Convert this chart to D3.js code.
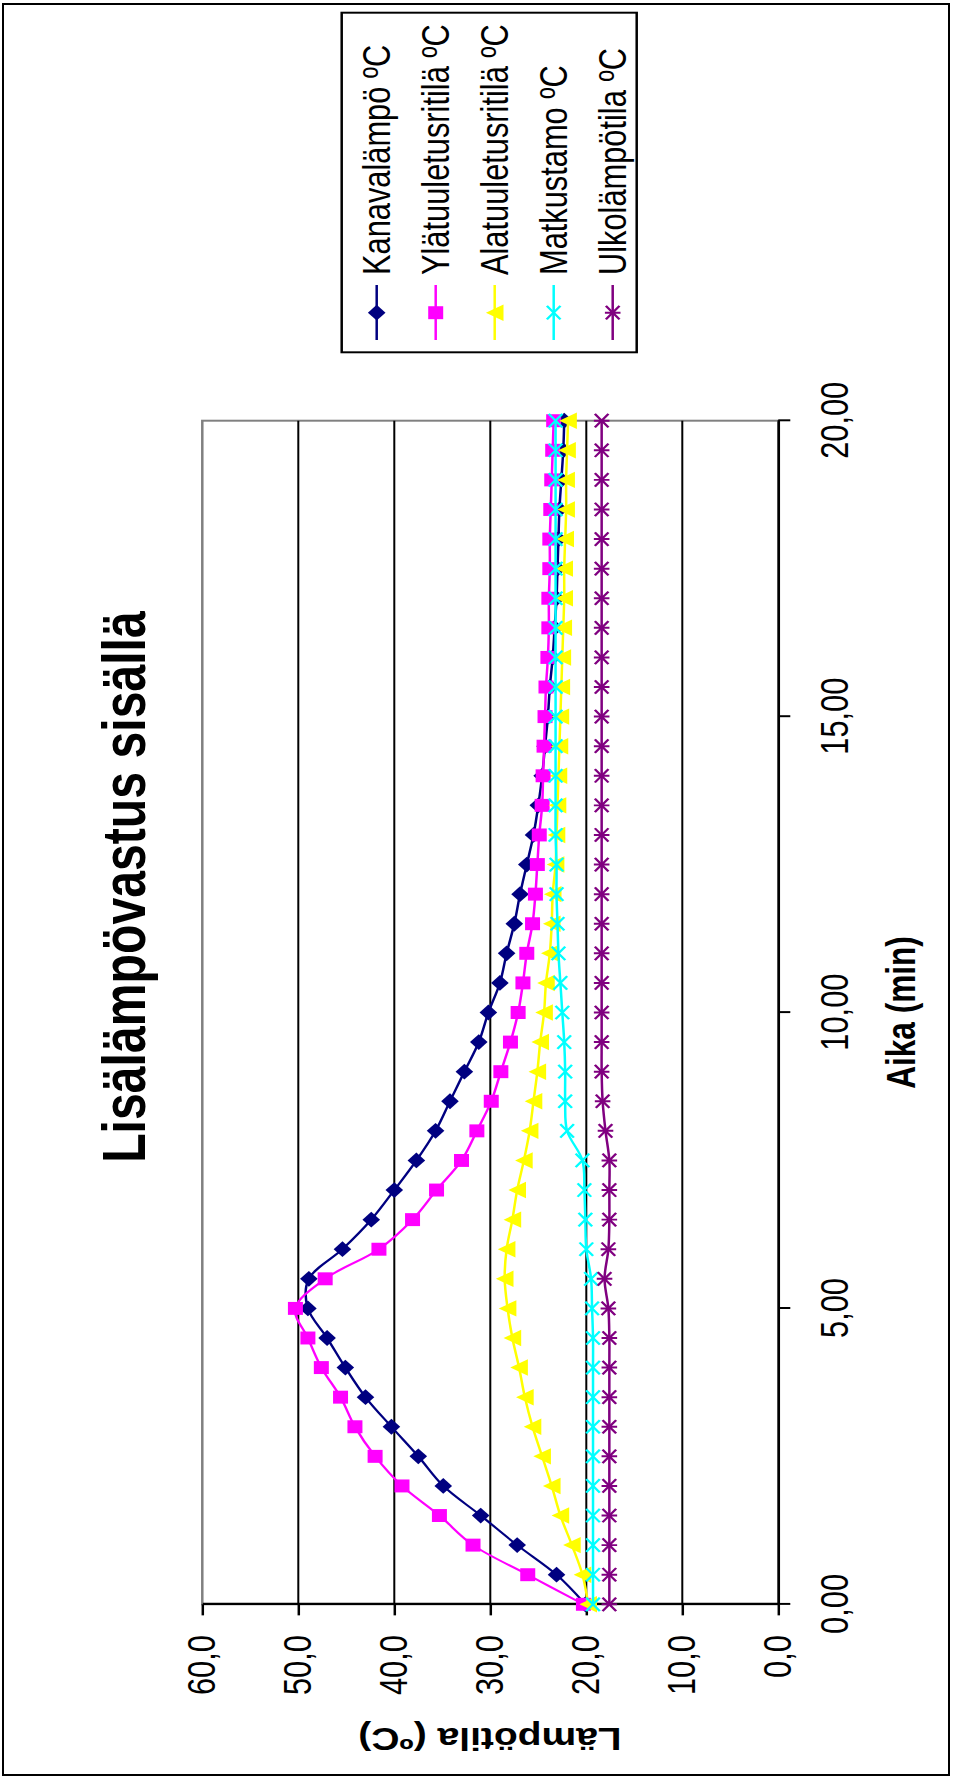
<!DOCTYPE html>
<html>
<head>
<meta charset="utf-8">
<script src="https://cdnjs.cloudflare.com/ajax/libs/d3/7.8.5/d3.min.js"></script>
<style>
  body { margin: 0; background: #fff; }
  text { font-family: "Liberation Sans", Arial, sans-serif; fill: #000; }
</style>
</head>
<body>
<script>
// time (min)
var aika = [0, 0.5, 1, 1.5, 2, 2.5, 3, 3.5, 4, 4.5, 5, 5.5, 6, 6.5, 7, 7.5, 8, 8.5, 9, 9.5,
            10, 10.5, 11, 11.5, 12, 12.5, 13, 13.5, 14, 14.5, 15, 15.5, 16, 16.5, 17, 17.5, 18, 18.5, 19, 19.5, 20];

var kanava = [20.1, 23.1, 27.2, 31.0, 34.9, 37.5, 40.3, 43.0, 45.1, 47.0, 49.0, 48.9, 45.4, 42.4, 40.0, 37.7, 35.7, 34.2, 32.7, 31.2,
              30.2, 29.0, 28.3, 27.5, 26.9, 26.2, 25.5, 25.0, 24.6, 24.3, 24.0, 23.8, 23.5, 23.3, 23.1, 23.0, 22.9, 22.8, 22.6, 22.4, 22.3];
var yla = [20.3, 26.1, 31.8, 35.3, 39.2, 42.0, 44.1, 45.6, 47.6, 49.0, 50.3, 47.2, 41.6, 38.1, 35.6, 33.0, 31.4, 29.9, 28.9, 27.9,
           27.1, 26.6, 26.2, 25.6, 25.3, 25.1, 24.9, 24.6, 24.5, 24.4, 24.3, 24.2, 24.0, 23.9, 23.9, 23.8, 23.8, 23.7, 23.6, 23.5, 23.4];
var ala = [19.8, 20.4, 21.5, 22.7, 23.6, 24.6, 25.6, 26.4, 27.0, 27.7, 28.2, 28.5, 28.3, 27.7, 27.2, 26.5, 25.9, 25.5, 25.1, 24.8,
           24.4, 24.2, 23.8, 23.6, 23.5, 23.2, 23.1, 23.0, 22.9, 22.8, 22.7, 22.6, 22.5, 22.4, 22.3, 22.3, 22.2, 22.1, 22.1, 22.0, 21.9];
var matkustamo = [19.3, 19.3, 19.3, 19.3, 19.3, 19.3, 19.3, 19.3, 19.3, 19.3, 19.4, 19.5, 20.0, 20.1, 20.2, 20.4, 22.0, 22.2, 22.2, 22.3,
                  22.5, 22.7, 22.9, 23.0, 23.1, 23.1, 23.2, 23.2, 23.2, 23.2, 23.2, 23.2, 23.2, 23.2, 23.2, 23.2, 23.2, 23.2, 23.2, 23.2, 23.2];
var ulko = [17.6, 17.6, 17.6, 17.6, 17.6, 17.6, 17.6, 17.6, 17.6, 17.6, 17.7, 18.1, 17.7, 17.6, 17.6, 17.6, 18.0, 18.3, 18.4, 18.4,
            18.4, 18.4, 18.4, 18.4, 18.4, 18.4, 18.4, 18.4, 18.4, 18.4, 18.4, 18.4, 18.4, 18.4, 18.4, 18.4, 18.4, 18.4, 18.4, 18.4, 18.4];

var sarjat = ["Kanavalämpö ºC", "Ylätuuletusritilä ºC", "Alatuuletusritilä ºC", "Matkustamo ºC", "Ulkolämpötila ºC"];
var varit = ["#000080", "#ff00ff", "#ffff00", "#00ffff", "#800080"];
var merkit = ["diamond", "square", "triangle", "cross", "star"];
var arvot = [kanava, yla, ala, matkustamo, ulko];

var xTicks = [0, 5, 10, 15, 20];
var yTicks = [0, 10, 20, 30, 40, 50, 60];

var K = 0.79; // chart is squeezed along the time direction

var fi = d3.formatLocale({decimal: ",", thousands: " ", grouping: [3], currency: ["", "€"]});
var fmt2 = fi.format(".2f"), fmt1 = fi.format(".1f");

var svg = d3.select("body").append("svg")
    .attr("width", 954)
    .attr("height", 1778);

svg.append("rect").attr("width", 954).attr("height", 1778).attr("fill", "#fff");
svg.append("rect")
    .attr("x", 3).attr("y", 4).attr("width", 946).attr("height", 1771)
    .attr("fill", "none").attr("stroke", "#000").attr("stroke-width", 2);

// whole chart is drawn landscape, then turned
var g = svg.append("g")
    .attr("transform", "translate(0,1778) rotate(-90) scale(" + K + ",1)");

var x = d3.scaleLinear().domain([0, 20]).range([173.7 / K, 1357.3 / K]);
var y = d3.scaleLinear().domain([0, 60]).range([778.3, 202.3]);

g.append("rect")
    .attr("x", x(0)).attr("y", y(60))
    .attr("width", x(20) - x(0)).attr("height", y(0) - y(60))
    .attr("fill", "none").attr("stroke", "#808080").attr("stroke-width", 2.5);

g.append("g").selectAll("line")
    .data(yTicks.filter(function(d) { return d > 0 && d < 60; }))
    .enter().append("line")
      .attr("x1", x(0)).attr("x2", x(20))
      .attr("y1", function(d) { return y(d); })
      .attr("y2", function(d) { return y(d); })
      .attr("stroke", "#000").attr("stroke-width", 2);

var xAxis = g.append("g")
    .attr("transform", "translate(0," + y(0) + ")")
    .call(d3.axisBottom(x).tickValues(xTicks).tickFormat(fmt2)
      .tickSize(12).tickSizeOuter(0).tickPadding(30));

var yAxis = g.append("g")
    .attr("transform", "translate(" + x(0) + ",0)")
    .call(d3.axisLeft(y).tickValues(yTicks).tickFormat(fmt1)
      .tickSize(14).tickSizeOuter(0).tickPadding(25));

[xAxis, yAxis].forEach(function(a) {
  a.select(".domain").attr("stroke", "#000").attr("stroke-width", 2.5);
  a.selectAll(".tick line").attr("stroke", "#000").attr("stroke-width", 2.5);
  a.selectAll(".tick text").attr("font-size", 39).attr("font-family", null).attr("fill", "#000");
});
yAxis.select(".domain").attr("stroke-width", 3);

function marker(tyyppi) {
  switch (tyyppi) {
    case "diamond": return "M-10,0L0,-8.8L10,0L0,8.8Z";
    case "square": return "M-8.2,-7.5H8.2V7.5H-8.2Z";
    case "triangle": return "M0,-8.8L10.4,8.8L-10.4,8.8Z";
    case "cross": return "M-8.5,-6.8L8.5,6.8M-8.5,6.8L8.5,-6.8";
    case "star": return "M-8.5,-6.8L8.5,6.8M-8.5,6.8L8.5,-6.8M0,-7.8V7.8";
  }
}

function piirraMerkki(sel, i) {
  var filled = i < 3;
  sel.attr("d", marker(merkit[i]))
    .attr("fill", filled ? varit[i] : "none")
    .attr("stroke", varit[i])
    .attr("stroke-width", filled ? 0 : 2.5);
}

var line = d3.line()
    .x(function(d) { return x(d[0]); })
    .y(function(d) { return y(d[1]); })
    .curve(d3.curveCatmullRom);

arvot.forEach(function(sarja, i) {
  var pts = aika.map(function(t, j) { return [t, sarja[j]]; });
  var sg = g.append("g");
  sg.append("path")
      .attr("d", line(pts))
      .attr("fill", "none")
      .attr("stroke", varit[i])
      .attr("stroke-width", 2.5);
  sg.selectAll("path.m")
    .data(pts)
    .enter().append("path")
      .attr("class", "m")
      .attr("transform", function(d) { return "translate(" + x(d[0]) + "," + y(d[1]) + ")"; })
      .call(piirraMerkki, i);
});

// legend
var leg = g.append("g");
leg.append("rect")
    .attr("x", 1425.7 / K).attr("y", 341.7)
    .attr("width", (1765.3 - 1425.7) / K).attr("height", 295)
    .attr("fill", "#fff").attr("stroke", "#000").attr("stroke-width", 2.5);

var item = leg.selectAll("g.item")
    .data(sarjat)
    .enter().append("g")
      .attr("class", "item")
      .attr("transform", function(d, i) { return "translate(0," + (376.7 + i * 59) + ")"; });

item.append("line")
    .attr("x1", 1438 / K).attr("x2", 1493 / K)
    .attr("stroke", function(d, i) { return varit[i]; })
    .attr("stroke-width", 2.5);
item.append("path")
    .attr("transform", "translate(" + (1465.3 / K) + ",0)")
    .each(function(d, i) { d3.select(this).call(piirraMerkki, i); });
item.append("text")
    .attr("x", 1503 / K).attr("y", 13.5)
    .attr("font-size", 39)
    .text(function(d) { return d; });

// titles
g.append("text")
    .attr("x", 891 / K).attr("y", 145)
    .attr("text-anchor", "middle")
    .attr("font-size", 61).attr("font-weight", "bold")
    .text("Lisälämpövastus sisällä");

g.append("text")
    .attr("x", 765.5 / K).attr("y", 915)
    .attr("text-anchor", "middle")
    .attr("font-size", 40).attr("font-weight", "bold")
    .text("Aika (min)");

g.append("text")
    .attr("transform", "translate(" + (50 / K) + ",490) rotate(-90)")
    .attr("text-anchor", "middle")
    .attr("font-size", 39).attr("font-weight", "bold")
    .text("Lämpötila (ºC)");
</script>
</body>
</html>
